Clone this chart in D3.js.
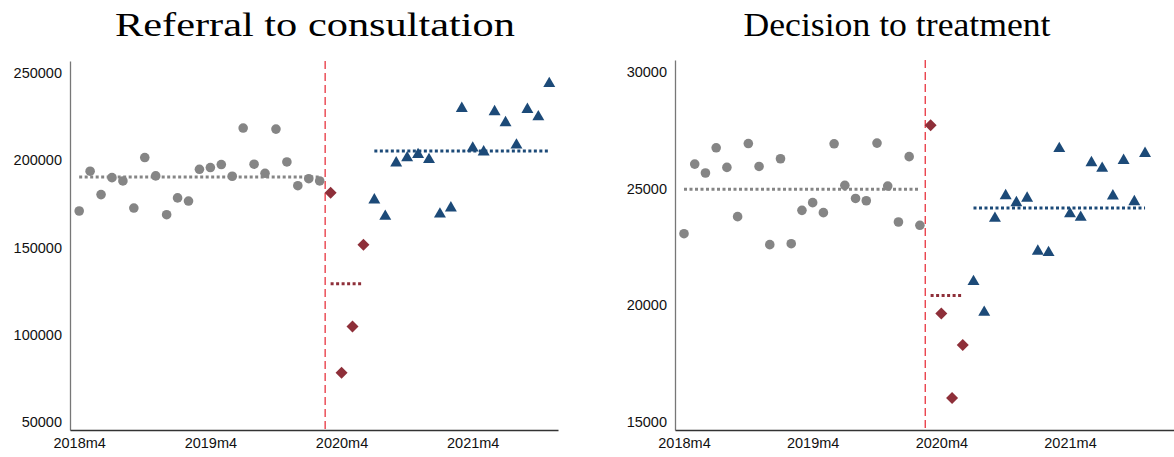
<!DOCTYPE html>
<html><head><meta charset="utf-8">
<script src="https://cdn.jsdelivr.net/npm/d3@7"></script>
<style>body{margin:0;background:#fff}svg{display:block}</style>
</head><body>
<svg id="c" width="1174" height="457"></svg>
<script>
const xTickLabels = ["2018m4","2019m4","2020m4","2021m4"];
const xTickIdx = [0,12,24,36];
// Referral to consultation
const refPre = [170900,193700,180300,190000,188100,172600,201500,191000,168800,178400,176600,194800,195800,197500,190800,218400,197700,192500,217800,199000,185400,189400,188100];
const refCovid = [181400,78300,104700,151600];
const refPost = [177800,168400,199000,201900,203800,200900,169700,173200,230200,207500,205300,228300,222000,209200,229600,225400,244400];
const refMeans = [190400,129200,205200];
const refTicks = [50000,100000,150000,200000,250000];
// Decision to treatment
const decPre = [23060,26040,25660,26740,25900,23790,26920,25940,22590,26270,22630,24060,24390,23960,26910,25130,24570,24470,26940,25100,23560,26360,23420];
const decCovid = [27710,19640,16020,18290];
const decPost = [21050,19730,23760,24730,24430,24620,22350,22290,26750,23950,23800,26140,25900,24720,26240,24470,26540];
const decMeans = [24960,20410,24160];
const decTicks = [15000,20000,25000,30000];

const svg = d3.select("#c");
const grey="#858585", red="#8e2f39", blue="#1c4a78";

function panel(o){
  const g = svg.append("g");
  const x = d3.scaleLinear().domain(o.xd).range([o.x0,o.x1]);
  const y = d3.scaleLinear().domain(o.yd).range([430,o.yTop]);
  g.append("text").attr("x",o.tx).attr("y",36).attr("text-anchor","middle")
    .attr("font-family","'Liberation Serif',serif").attr("font-size",33)
    .attr("textLength",o.tl).attr("lengthAdjust","spacingAndGlyphs").text(o.title);
  const ya = g.append("g").attr("transform",`translate(${o.x0},0)`).call(d3.axisLeft(y).tickValues(o.yticks).tickSize(0).tickPadding(8).tickFormat(d3.format("d")));
  ya.select(".domain").attr("stroke","#777").attr("stroke-width",1.3);
  const xa = g.append("g").attr("transform","translate(0,430)").call(d3.axisBottom(x).tickValues(xTickIdx).tickSize(0).tickPadding(8).tickFormat((d,i)=>xTickLabels[i]));
  xa.select(".domain").attr("stroke","#333").attr("stroke-width",1.3);
  [ya,xa].forEach(a=>a.selectAll("text").attr("font-family","'Liberation Sans',Arial,sans-serif").attr("font-size",14.5).attr("fill","#111"));
  g.append("line").attr("x1",x(22.5)).attr("x2",x(22.5)).attr("y1",o.yTop).attr("y2",430)
    .attr("stroke","#e8343f").attr("stroke-width",1.3).attr("stroke-dasharray","8,4");
  const segs=[[0,22,grey],[23,26,red],[27,43,blue]];
  segs.forEach((s,i)=>g.append("line").attr("x1",x(s[0])).attr("x2",x(s[1])).attr("y1",y(o.means[i])).attr("y2",y(o.means[i]))
    .attr("stroke",s[2]).attr("stroke-width",3).attr("stroke-dasharray","3,2.5"));
  g.selectAll(".pre").data(o.pre).join("circle").attr("cx",(d,i)=>x(i)).attr("cy",d=>y(d)).attr("r",4.8).attr("fill",grey);
  g.selectAll(".cov").data(o.covid).join("path").attr("d",d3.symbol(d3.symbolSquare,72)())
    .attr("transform",(d,i)=>`translate(${x(23+i)},${y(d)}) rotate(45)`).attr("fill",red);
  g.selectAll(".post").data(o.post).join("path").attr("d",d3.symbol(d3.symbolTriangle,62)())
    .attr("transform",(d,i)=>`translate(${x(27+i)},${y(d)+1})`).attr("fill",blue);
}
panel({title:"Referral to consultation",tx:315,tl:400,x0:70,x1:558,xd:[-0.84,43.8],yd:[45500,256800],yTop:61,yticks:refTicks,pre:refPre,covid:refCovid,post:refPost,means:refMeans});
panel({title:"Decision to treatment",tx:897,tl:307,x0:675,x1:1174,xd:[-0.84,45.7],yd:[14650,30500],yTop:60,yticks:decTicks,pre:decPre,covid:decCovid,post:decPost,means:decMeans});
</script>
</body></html>
